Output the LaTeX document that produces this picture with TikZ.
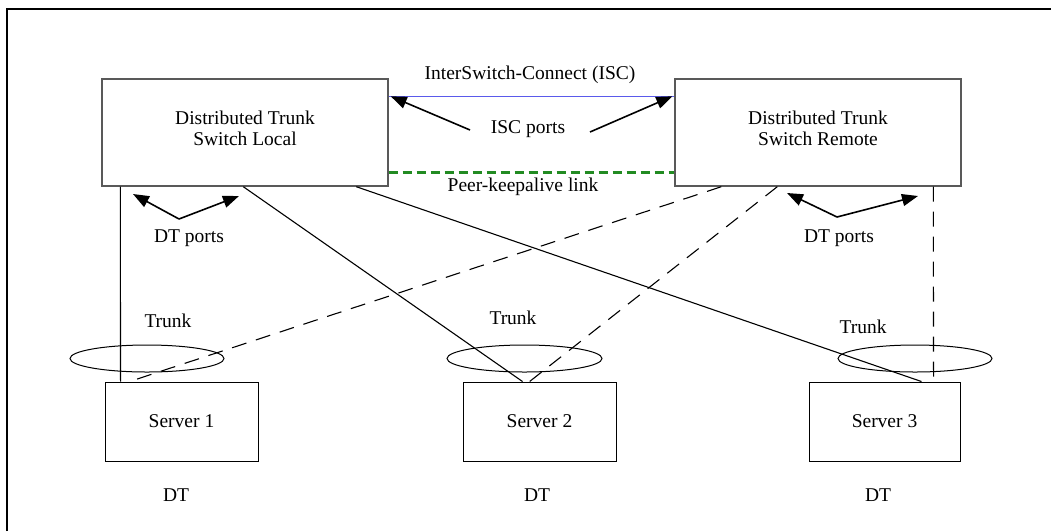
\documentclass[tikz,border=0pt]{standalone}
\usepackage{fontspec}
\setmainfont{Liberation Serif}
\usetikzlibrary{arrows.meta,shapes.geometric}
\definecolor{iscB}{RGB}{90,90,235}
\definecolor{keepG}{RGB}{34,139,34}

\begin{document}
\begin{tikzpicture}[x=1pt,y=-1pt,
  every node/.style={font=\fontsize{19.5}{21}\selectfont},
  switchbox/.style={draw=black!65,line width=1.4pt,minimum width=286pt,minimum height=107pt,inner sep=0pt,align=center},
  serverbox/.style={draw,line width=0.9pt,minimum width=153pt,minimum height=79pt,inner sep=0pt},
  trunkring/.style={draw,ellipse,line width=1pt,minimum width=154pt,minimum height=27pt,inner sep=0pt},
  dtlink/.style={line width=1.1pt},
  dtdash/.style={line width=1.1pt,dash pattern=on 15pt off 10pt},
  portarrow/.style={line width=1.6pt,-{Triangle[length=16pt,width=12pt]}}]
\useasboundingbox (0,0) rectangle (1051,531);
\draw[line width=2.5pt] (7,531) -- (7,9) -- (1051,9);
% switches and servers
\node[switchbox] (lsw) at (245,132.5) {\mbox{}\\[-15pt]Distributed Trunk\\Switch Local};
\node[switchbox] (rsw) at (818,132.5) {\mbox{}\\[-15pt]Distributed Trunk\\Switch Remote};
\node[serverbox] (s1) at (181.5,421.5) {Server 1};
\node[serverbox] (s2) at (539.5,421.5) {Server 2};
\node[serverbox,minimum width=151pt] (s3) at (884.5,421.5) {Server 3};
\node (dt1) at (176,495) {DT}; \node (dt2) at (537,495) {DT}; \node (dt3) at (878,495) {DT};
% ISC and keepalive
\draw[iscB,line width=1pt] ([yshift=-18pt]lsw.north east) -- ([yshift=-18pt]rsw.north west);
\draw[keepG,line width=2.6pt,dash pattern=on 9pt off 5pt] ([yshift=14pt]lsw.south east) -- ([yshift=14pt]rsw.south west);
\node (isc) at (530,75) {InterSwitch-Connect (ISC)};
\node (iscp) at (528,129) {ISC ports};
\node (keep) at (523,187) {Peer-keepalive link};
\coordinate (iscl) at (470,130); \coordinate (iscr) at (590,132);
\draw[portarrow] (iscl) -- ([yshift=-18pt,xshift=2pt]lsw.north east);
\draw[portarrow] (iscr) -- ([yshift=-18pt,xshift=-2pt]rsw.north west);
% DT ports
\node (dtp1) at (189,238) {DT ports};
\node (dtp2) at (839,238) {DT ports};
\coordinate (v1) at (179,219); \coordinate (v2) at (837,217);
\draw[portarrow] (v1) -- (133,194); \draw[portarrow] (v1) -- (239,196);
\draw[portarrow] (v2) -- (787,193); \draw[portarrow] (v2) -- (918,196);
% trunks
\node[trunkring] (t1) at (147,358.5) {};
\node[trunkring,minimum width=155pt] (t2) at (524.5,358.5) {};
\node[trunkring] (t3) at (915,358.5) {};
\node (tl1) at (168,321) {Trunk}; \node (tl2) at (513,318) {Trunk}; \node (tl3) at (863,327) {Trunk};
% links
\draw[dtlink] ([xshift=19pt]lsw.south west) -- ([xshift=16pt]s1.north west);
\draw[dtlink] ([xshift=142pt]lsw.south west) -- ([xshift=60pt]s2.north west);
\draw[dtlink] ([xshift=255pt]lsw.south west) -- ([xshift=113pt]s3.north west);
\draw[dtdash] ([xshift=47pt]rsw.south west) -- ([xshift=25pt]s1.north west);
\draw[dtdash] ([xshift=103pt]rsw.south west) -- ([xshift=67pt]s2.north west);
\draw[dtdash] ([xshift=259pt]rsw.south west) -- ([xshift=125pt]s3.north west);
\end{tikzpicture}
\end{document}
